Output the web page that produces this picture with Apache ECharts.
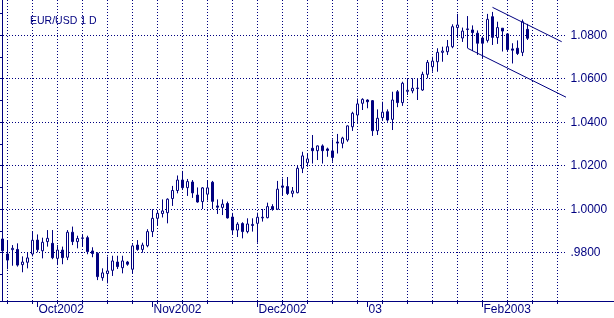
<!DOCTYPE html>
<html><head><meta charset="utf-8">
<script src="https://cdn.jsdelivr.net/npm/echarts@6/dist/echarts.min.js"></script>
<style>html,body{margin:0;padding:0;background:#fff}#c{width:614px;height:318px}</style>
</head><body><div id="c"></div>
<script>
const chartTitle = 'EUR/USD 1 D';
const firstDay = '2002-09-20';
const slotCount = 113;
const opens = [0.9863,0.9794,0.9814,0.9815,0.9745,0.9756,0.9794,0.9858,0.9809,0.9851,
0.9843,0.9774,0.9812,0.9779,0.9894,0.9851,0.9866,0.9869,0.9808,0.9797,
0.9685,0.9704,0.9719,0.9757,0.9731,0.9757,0.9724,0.9835,0.9815,0.9832,
0.9897,0.9958,0.9980,0.9984,1.0049,1.0086,1.0134,1.0099,1.0125,1.0065,
1.0035,1.0069,1.0124,1.0015,1.0008,1.0026,0.9964,0.9904,0.9934,0.9897,
0.9925,0.9935,0.9960,0.9961,1.0012,1.0000,1.0107,1.0104,1.0073,1.0076,
1.0188,1.0214,1.0280,1.0269,1.0291,1.0277,1.0268,1.0309,1.0303,1.0318,
1.0379,1.0433,1.0487,1.0502,1.0499,1.0361,1.0421,1.0448,1.0413,1.0540,
1.0490,1.0542,1.0544,1.0555,1.0548,1.0620,1.0655,1.0678,1.0721,1.0724,
1.0747,1.0835,1.0787,1.0826,1.0824,1.0809,1.0787,1.0776,1.0885,1.0789,
1.0832,1.0806,1.0737,1.0740,1.0721,1.0827];
const highs = [0.9869,0.9854,0.9835,0.9843,0.9783,0.9802,0.9897,0.9884,0.9869,0.9904,
0.9904,0.9835,0.9828,0.9904,0.9920,0.9878,0.9884,0.9878,0.9825,0.9802,
0.9728,0.9782,0.9786,0.9786,0.9786,0.9762,0.9839,0.9858,0.9846,0.9908,
1.0000,0.9996,1.0045,1.0050,1.0107,1.0155,1.0176,1.0139,1.0134,1.0100,
1.0102,1.0134,1.0130,1.0045,1.0045,1.0035,0.9983,0.9940,0.9940,0.9958,
0.9958,0.9984,1.0001,1.0030,1.0023,1.0130,1.0141,1.0148,1.0102,1.0201,
1.0264,1.0254,1.0341,1.0293,1.0298,1.0283,1.0321,1.0346,1.0333,1.0385,
1.0448,1.0509,1.0510,1.0505,1.0502,1.0459,1.0494,1.0459,1.0540,1.0548,
1.0586,1.0601,1.0602,1.0602,1.0632,1.0686,1.0701,1.0740,1.0747,1.0778,
1.0850,1.0898,1.0835,1.0888,1.0845,1.0822,1.0793,1.0898,1.0907,1.0862,
1.0833,1.0809,1.0763,1.0776,1.0872,1.0852];
const lows = [0.9770,0.9724,0.9740,0.9736,0.9710,0.9728,0.9783,0.9802,0.9774,0.9828,
0.9770,0.9743,0.9747,0.9766,0.9835,0.9820,0.9828,0.9793,0.9779,0.9674,
0.9671,0.9659,0.9693,0.9725,0.9705,0.9740,0.9705,0.9809,0.9800,0.9825,
0.9872,0.9923,0.9962,0.9935,1.0015,1.0073,1.0088,1.0061,1.0052,1.0030,
1.0001,1.0040,1.0001,0.9978,0.9973,0.9957,0.9881,0.9872,0.9866,0.9889,
0.9897,0.9846,0.9943,0.9958,0.9993,0.9996,1.0061,1.0065,1.0055,1.0073,
1.0166,1.0195,1.0210,1.0226,1.0210,1.0241,1.0218,1.0256,1.0280,1.0310,
1.0360,1.0402,1.0456,1.0464,1.0337,1.0341,1.0410,1.0402,1.0364,1.0469,
1.0475,1.0525,1.0533,1.0502,1.0544,1.0602,1.0632,1.0632,1.0678,1.0709,
1.0740,1.0787,1.0769,1.0741,1.0727,1.0709,1.0691,1.0766,1.0755,1.0760,
1.0725,1.0724,1.0670,1.0709,1.0704,1.0778];
const closes = [0.9809,0.9766,0.9820,0.9743,0.9757,0.9776,0.9857,0.9814,0.9848,0.9866,
0.9777,0.9812,0.9777,0.9894,0.9851,0.9865,0.9868,0.9805,0.9796,0.9690,
0.9707,0.9716,0.9762,0.9736,0.9762,0.9747,0.9831,0.9815,0.9835,0.9897,
0.9958,0.9981,0.9992,1.0046,1.0086,1.0134,1.0099,1.0127,1.0075,1.0033,
1.0098,1.0098,1.0036,1.0009,1.0023,0.9960,0.9904,0.9931,0.9897,0.9932,
0.9930,0.9963,0.9963,1.0012,1.0000,1.0092,1.0101,1.0072,1.0084,1.0188,
1.0245,1.0231,1.0269,1.0291,1.0269,1.0270,1.0238,1.0304,1.0327,1.0383,
1.0441,1.0484,1.0505,1.0494,1.0361,1.0418,1.0446,1.0410,1.0502,1.0490,
1.0579,1.0547,1.0556,1.0557,1.0620,1.0675,1.0681,1.0721,1.0727,1.0747,
1.0839,1.0847,1.0819,1.0829,1.0812,1.0763,1.0763,1.0873,1.0790,1.0835,
1.0819,1.0734,1.0731,1.0716,1.0862,1.0786];
const monthTickDates = ['2002-10-01','2002-11-01','2002-12-02','2003-01-01','2003-02-03'];
const monthTickLabels = ['Oct2002','Nov2002','Dec2002','03','Feb2003'];
const priceGridRange = [0.96, 1.10], priceLabelRange = [0.98, 1.08], priceStep = 0.02;
const trendUpper = [[98,1.0928],[111.84,1.0770]];
const trendLower = [[93,1.0740],[112.7,1.0515]];
const yMin = 0.95779, yMax = 1.09618;

const NAVY = '#000080';
const FONT = 'Liberation Sans, Arial, sans-serif';
const H = 318, PLOT_W = 565, AXIS_BOTTOM = 17;
const plotH = H - AXIS_BOTTOM;
const yPix = p => (yMax - p) / (yMax - yMin) * plotH;

function weekdays(start, n) {
  const out = [];
  const d = new Date(start + 'T00:00:00Z');
  while (out.length < n) {
    const w = d.getUTCDay();
    if (w !== 0 && w !== 6) out.push(d.toISOString().slice(0, 10));
    d.setUTCDate(d.getUTCDate() + 1);
  }
  return out;
}
const dates = weekdays(firstDay, slotCount);
const isMonday = (i, v) => new Date(v + 'T00:00:00Z').getUTCDay() === 1;
const isMonthStart = (i, v) => monthTickDates.indexOf(v) >= 0;
const candleData = opens.map((o, i) => [o, closes[i], lows[i], highs[i]]);
const dotted = { color: NAVY, width: 1, type: [1, 2] };
const fmtPrice = v => { const s = Number(v).toFixed(4); return s.charAt(0) === '0' ? s.slice(1) : s; };
const gridAt = (lo, hi) => ({ left: 0, width: PLOT_W, top: yPix(hi), bottom: H - yPix(lo), containLabel: false, outerBoundsMode: 'none' });

const chart = echarts.init(document.getElementById('c'), null, { renderer: 'canvas' });
chart.setOption({
  animation: false,
  backgroundColor: '#ffffff',
  title: { text: chartTitle, left: 30, top: 16, padding: 0,
    textStyle: { color: NAVY, fontSize: 10.5, fontWeight: 'normal', fontFamily: FONT } },
  grid: [
    { left: 0, width: PLOT_W, top: 0, bottom: AXIS_BOTTOM, containLabel: false, outerBoundsMode: 'none' },
    { left: 0, right: 0, top: 0, bottom: AXIS_BOTTOM, containLabel: false, outerBoundsMode: 'none' },
    gridAt(priceGridRange[0], priceGridRange[1]),
    gridAt(priceLabelRange[0], priceLabelRange[1])
  ],
  xAxis: [
    { type: 'category', gridIndex: 0, data: dates, boundaryGap: true,
      axisLine: { show: false },
      axisTick: { show: true, alignWithLabel: true, interval: isMonday, length: 3, lineStyle: { color: NAVY } },
      axisLabel: { show: false },
      splitLine: { show: true, alignWithLabel: true, interval: isMonday, lineStyle: dotted } },
    { type: 'category', gridIndex: 0, data: dates, boundaryGap: true, position: 'bottom', offset: 0,
      axisLine: { show: false },
      axisTick: { show: true, alignWithLabel: true, interval: isMonthStart, length: 6, lineStyle: { color: NAVY } },
      axisLabel: { show: true, interval: isMonthStart, align: 'left', margin: 3, padding: [0, 0, 0, 1],
        formatter: v => monthTickLabels[monthTickDates.indexOf(v)] || '',
        color: NAVY, fontSize: 12, fontFamily: FONT },
      splitLine: { show: false } },
    { type: 'value', gridIndex: 0, min: -0.5, max: slotCount - 0.5, show: false, splitLine: { show: false } },
    { type: 'value', gridIndex: 1, min: 0, max: 1,
      axisLine: { show: true, lineStyle: { color: NAVY } },
      axisTick: { show: false }, axisLabel: { show: false }, splitLine: { show: false } },
    { type: 'value', gridIndex: 2, min: 0, max: 1, show: false, splitLine: { show: false } },
    { type: 'value', gridIndex: 3, min: 0, max: 1, show: false, splitLine: { show: false } }
  ],
  yAxis: [
    { type: 'value', gridIndex: 0, position: 'right', offset: 1.5, min: yMin, max: yMax,
      axisLine: { show: true, lineStyle: { color: NAVY } },
      axisTick: { show: false }, axisLabel: { show: false }, splitLine: { show: false } },
    { type: 'value', gridIndex: 1, min: 0, max: 1, show: false, splitLine: { show: false } },
    { type: 'value', gridIndex: 2, position: 'right', offset: 1.5,
      min: priceGridRange[0], max: priceGridRange[1], interval: priceStep,
      axisLine: { show: false }, axisTick: { show: false },
      minorTick: { show: true, splitNumber: 2, length: 3, lineStyle: { color: NAVY } },
      axisLabel: { show: true, showMinLabel: false, showMaxLabel: false, margin: 4, color: NAVY, fontSize: 12, fontFamily: FONT, formatter: fmtPrice },
      splitLine: { show: true, showMinLine: false, showMaxLine: false, lineStyle: dotted } },
    { type: 'value', gridIndex: 3, position: 'right', offset: 1.5,
      min: priceLabelRange[0], max: priceLabelRange[1], interval: priceStep,
      axisLine: { show: false },
      axisTick: { show: true, length: 3, lineStyle: { color: NAVY } },
      axisLabel: { show: false }, splitLine: { show: false } }
  ],
  series: [
    { type: 'candlestick', xAxisIndex: 0, yAxisIndex: 0, data: candleData, barWidth: 2,
      itemStyle: { color: '#ffffff', color0: NAVY, borderColor: NAVY, borderColor0: NAVY, borderColorDoji: NAVY, borderWidth: 1 } },
    { type: 'line', xAxisIndex: 2, yAxisIndex: 0, data: trendUpper, symbol: 'none', clip: false,
      lineStyle: { color: NAVY, width: 1 } },
    { type: 'line', xAxisIndex: 2, yAxisIndex: 0, data: trendLower, symbol: 'none', clip: false,
      lineStyle: { color: NAVY, width: 1 } }
  ]
});
</script></body></html>
